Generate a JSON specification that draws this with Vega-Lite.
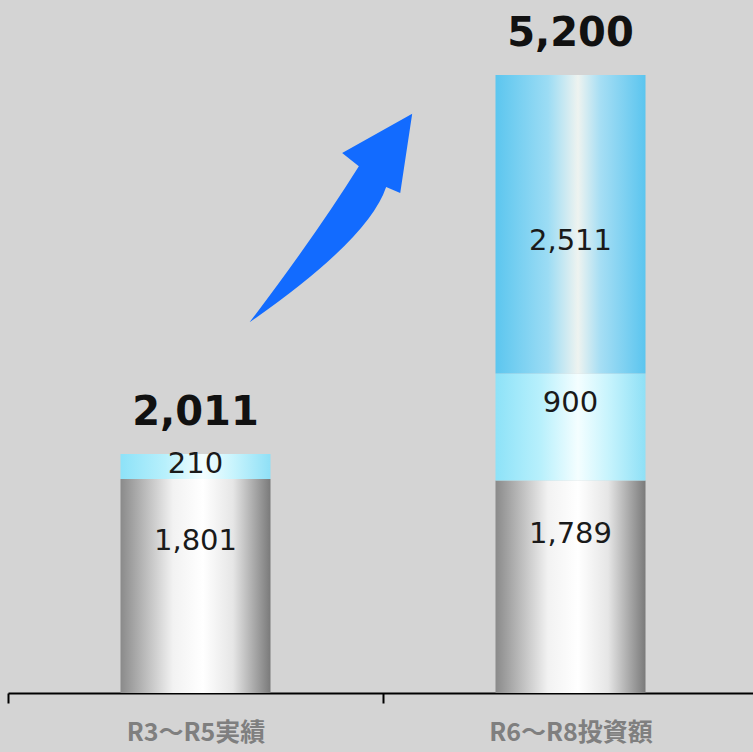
{
  "$schema": "https://vega.github.io/schema/vega-lite/v6.json",
  "width": 750,
  "height": 693,
  "autosize": {"type": "none"},
  "padding": {"left": 8, "top": 0, "right": 0, "bottom": 59},
  "background": "#d4d4d4",
  "config": {"view": {"stroke": null}},
  "data": {
    "values": [
      {"cat": "R3～R5実績", "seg": "gray", "order": 1, "value": 1801},
      {"cat": "R3～R5実績", "seg": "cyan", "order": 2, "value": 210},
      {"cat": "R6～R8投資額", "seg": "gray", "order": 1, "value": 1789},
      {"cat": "R6～R8投資額", "seg": "cyan", "order": 2, "value": 900},
      {"cat": "R6～R8投資額", "seg": "blue", "order": 3, "value": 2511}
    ]
  },
  "transform": [
    {"stack": "value", "groupby": ["cat"], "sort": [{"field": "order"}], "as": ["y0", "y1"]},
    {"calculate": "(datum.y0 + datum.y1) / 2", "as": "mid"}
  ],
  "encoding": {
    "x": {
      "field": "cat", "type": "nominal", "sort": null,
      "scale": {"paddingInner": 0, "paddingOuter": 0},
      "axis": {
        "title": null, "labelAngle": 0, "orient": "bottom",
        "domainColor": "#000000", "domainWidth": 2,
        "tickColor": "#000000", "tickWidth": 2, "tickSize": 10, "tickBand": "extent",
        "labelFont": "Noto Sans CJK JP", "labelFontSize": 25, "labelFontWeight": "bold",
        "labelColor": "#7f7f7f", "labelPadding": 17
      }
    }
  },
  "layer": [
    {
      "transform": [{"filter": "datum.seg === 'gray'"}],
      "mark": {"type": "bar", "width": {"band": 0.4},
        "fill": {"gradient": "linear", "x1": 0, "y1": 0, "x2": 1, "y2": 0,
          "stops": [
            {"offset": 0, "color": "#8a8a8a"},
            {"offset": 0.35, "color": "#f2f2f2"},
            {"offset": 0.55, "color": "#ffffff"},
            {"offset": 0.75, "color": "#e6e6e6"},
            {"offset": 1, "color": "#7a7a7a"}
          ]}},
      "encoding": {
        "y": {"field": "y1", "type": "quantitative", "scale": {"domain": [0, 5831], "nice": false}, "axis": null},
        "y2": {"field": "y0"}
      }
    },
    {
      "transform": [{"filter": "datum.seg === 'cyan'"}],
      "mark": {"type": "bar", "width": {"band": 0.4},
        "fill": {"gradient": "linear", "x1": 0, "y1": 0, "x2": 1, "y2": 0,
          "stops": [
            {"offset": 0, "color": "#8de2f8"},
            {"offset": 0.3, "color": "#b8f0fc"},
            {"offset": 0.55, "color": "#f4feff"},
            {"offset": 0.75, "color": "#c8f4fd"},
            {"offset": 1, "color": "#8fe0f6"}
          ]}},
      "encoding": {
        "y": {"field": "y1", "type": "quantitative"},
        "y2": {"field": "y0"}
      }
    },
    {
      "transform": [{"filter": "datum.seg === 'blue'"}],
      "mark": {"type": "bar", "width": {"band": 0.4},
        "fill": {"gradient": "linear", "x1": 0, "y1": 0, "x2": 1, "y2": 0,
          "stops": [
            {"offset": 0, "color": "#5cc6ef"},
            {"offset": 0.35, "color": "#9cdcf4"},
            {"offset": 0.55, "color": "#eef3f0"},
            {"offset": 0.7, "color": "#a6def4"},
            {"offset": 1, "color": "#5bc5ef"}
          ]}},
      "encoding": {
        "y": {"field": "y1", "type": "quantitative"},
        "y2": {"field": "y0"}
      }
    },
    {
      "transform": [{"filter": "datum.seg === 'gray' && datum.value > 1795"}],
      "mark": {"type": "text", "font": "DejaVu Sans", "fontSize": 29, "color": "#1a1a1a", "baseline": "middle", "dy": -45},
      "encoding": {
        "y": {"field": "mid", "type": "quantitative"},
        "text": {"field": "value", "type": "quantitative", "format": ","}
      }
    },
    {
      "transform": [{"filter": "datum.seg === 'gray' && datum.value <= 1795"}],
      "mark": {"type": "text", "font": "DejaVu Sans", "fontSize": 29, "color": "#1a1a1a", "baseline": "middle", "dy": -53},
      "encoding": {
        "y": {"field": "mid", "type": "quantitative"},
        "text": {"field": "value", "type": "quantitative", "format": ","}
      }
    },
    {
      "transform": [{"filter": "datum.seg === 'cyan' && datum.value < 500"}],
      "mark": {"type": "text", "font": "DejaVu Sans", "fontSize": 29, "color": "#1a1a1a", "baseline": "middle", "dy": -2},
      "encoding": {
        "y": {"field": "mid", "type": "quantitative"},
        "text": {"field": "value", "type": "quantitative", "format": ","}
      }
    },
    {
      "transform": [{"filter": "datum.seg === 'cyan' && datum.value >= 500"}],
      "mark": {"type": "text", "font": "DejaVu Sans", "fontSize": 29, "color": "#1a1a1a", "baseline": "middle", "dy": -24},
      "encoding": {
        "y": {"field": "mid", "type": "quantitative"},
        "text": {"field": "value", "type": "quantitative", "format": ","}
      }
    },
    {
      "transform": [{"filter": "datum.seg === 'blue'"}],
      "mark": {"type": "text", "font": "DejaVu Sans", "fontSize": 29, "color": "#1a1a1a", "baseline": "middle", "dy": 17},
      "encoding": {
        "y": {"field": "mid", "type": "quantitative"},
        "text": {"field": "value", "type": "quantitative", "format": ","}
      }
    },
    {
      "transform": [{"aggregate": [{"op": "sum", "field": "value", "as": "total"}], "groupby": ["cat"]}],
      "mark": {"type": "text", "font": "DejaVu Sans", "fontSize": 40, "fontWeight": "bold", "color": "#111111", "baseline": "middle", "dy": -41},
      "encoding": {
        "y": {"field": "total", "type": "quantitative"},
        "text": {"field": "total", "type": "quantitative", "format": ","}
      }
    },
    {
      "data": {"values": [{}]},
      "transform": [],
      "mark": {"type": "point", "filled": true, "opacity": 1, "color": "#126bff", "strokeWidth": 0, "size": 44100,
        "shape": "M-0.771,0.997Q-0.143,0.171,0.270,-0.489L0.111,-0.616L0.778,-0.990L0.664,-0.235L0.530,-0.292Q0.362,0.210,-0.771,0.997Z"},
      "encoding": {
        "x": {"datum": "R3～R5実績", "type": "nominal", "bandPosition": 0.86},
        "y": {"datum": 4000, "type": "quantitative"}
      }
    }
  ]
}
